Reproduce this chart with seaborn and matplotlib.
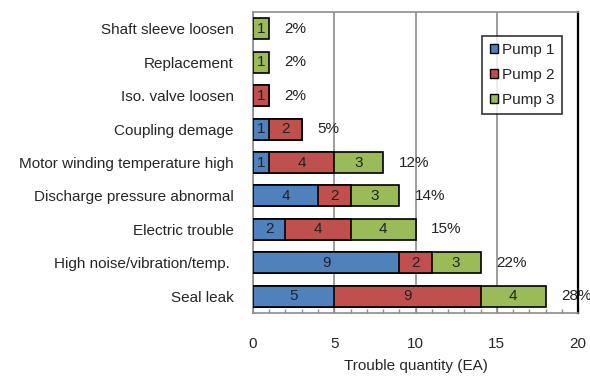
import numpy as np
import pandas as pd
import matplotlib
matplotlib.use("Agg")
import matplotlib.pyplot as plt
from matplotlib.patches import Patch
from matplotlib.ticker import MultipleLocator
import seaborn as sns

causes = [
    "Shaft sleeve loosen",
    "Replacement",
    "Iso. valve loosen",
    "Coupling demage",
    "Motor winding temperature high",
    "Discharge pressure abnormal",
    "Electric trouble",
    "High noise/vibration/temp. ",
    "Seal leak",
]
pump1 = [0, 0, 0, 1, 1, 4, 2, 9, 5]
pump2 = [0, 0, 1, 2, 4, 2, 4, 2, 9]
pump3 = [1, 1, 0, 0, 3, 3, 4, 3, 4]
series_names = ["Pump 1", "Pump 2", "Pump 3"]
colors = ["#4F81BD", "#C0504D", "#9BBB59"]

sns.set_theme(style="white")
plt.rcParams["font.family"] = ["Liberation Sans", "DejaVu Sans"]
FS = 11

p1 = np.array(pump1, dtype=float)
p2 = np.array(pump2, dtype=float)
p3 = np.array(pump3, dtype=float)
cum1 = p1
cum2 = p1 + p2
cum3 = p1 + p2 + p3
total = cum3.sum()

df = pd.DataFrame({
    "cause": causes,
    "c1": np.where(cum1 > 0, cum1, np.nan),
    "c2": np.where(cum2 > 0, cum2, np.nan),
    "c3": np.where(cum3 > 0, cum3, np.nan),
})

fig = plt.figure(figsize=(5.9, 3.76), dpi=100)
ax = fig.add_axes([0.4288, 0.1676, 0.5509, 0.8004])

# stacked look: draw cumulative lengths back to front
for col, color in zip(["c3", "c2", "c1"], colors[::-1]):
    sns.barplot(data=df, x=col, y="cause", orient="h", color=color,
                saturation=1, width=0.63, edgecolor="black", linewidth=1.2,
                ax=ax, zorder=3)

# segment values
starts = [np.zeros_like(p1), cum1, cum2]
for vals, st in zip([p1, p2, p3], starts):
    for i, (v, s) in enumerate(zip(vals, st)):
        if v > 0:
            ax.text(s + v / 2, i, f"{int(v)}", ha="center", va="center",
                    fontsize=FS, color="#222222", zorder=5)

# share of all troubles
for i, t in enumerate(cum3):
    ax.text(t + 0.95, i, f"{t / total * 100:.0f}%", ha="left", va="center",
            fontsize=FS, color="#222222", zorder=2, clip_on=False)

ax.set_xlim(0, 20)
ax.set_ylim(len(causes) - 0.5, -0.5)
ax.xaxis.set_major_locator(MultipleLocator(5))
ax.xaxis.set_minor_locator(MultipleLocator(1))
ax.grid(axis="x", which="major", color="#8c8c8c", linewidth=1.2, zorder=0)
ax.set_axisbelow(True)
ax.tick_params(axis="x", which="major", direction="in", length=5, width=1,
               color="#8c8c8c", pad=17, labelsize=FS, bottom=True)
ax.tick_params(axis="x", which="minor", direction="in", length=3, width=1,
               color="#8c8c8c", bottom=True)
ax.tick_params(axis="y", length=0, pad=14, labelsize=FS)
ax.set_xlabel("Trouble quantity (EA)", fontsize=FS, labelpad=6)
ax.set_ylabel("")

for side in ["left", "bottom", "top"]:
    ax.spines[side].set_color("#8c8c8c")
    ax.spines[side].set_linewidth(1.2)
ax.spines["right"].set_color("black")
ax.spines["right"].set_linewidth(1.6)

handles = [Patch(facecolor=c, edgecolor="black", linewidth=1.0) for c in colors]
leg = ax.legend(handles, series_names, loc="upper right",
                bbox_to_anchor=(0.952, 0.922), frameon=True, fancybox=False,
                edgecolor="black", handlelength=0.55, handleheight=0.55,
                handletextpad=0.25, labelspacing=0.7, borderpad=0.5,
                borderaxespad=0.0, fontsize=FS)
leg.get_frame().set_linewidth(1.2)
leg.set_zorder(6)

fig.savefig("out.png", dpi=100, facecolor="white")
